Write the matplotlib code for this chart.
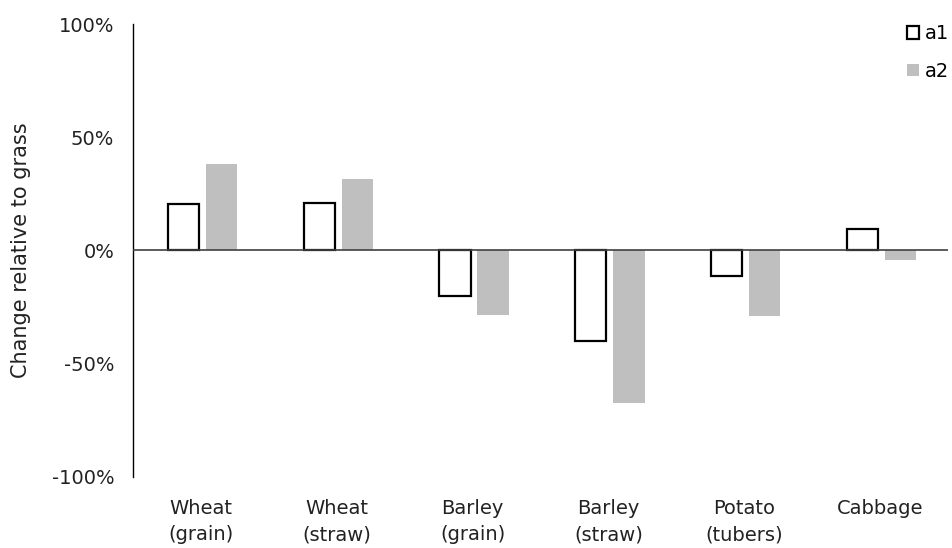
import numpy as np
import matplotlib
matplotlib.use("Agg")
import matplotlib.pyplot as plt

# Values (fraction change relative to grass)
categories = ["Wheat\n(grain)", "Wheat\n(straw)", "Barley\n(grain)",
              "Barley\n(straw)", "Potato\n(tubers)", "Cabbage"]
a1 = [0.204, 0.211, -0.200, -0.400, -0.114, 0.096]
a2 = [0.383, 0.314, -0.285, -0.673, -0.291, -0.042]
yticks = [-1.0, -0.5, 0.0, 0.5, 1.0]
ytick_labels = ["-100%", "-50%", "0%", "50%", "100%"]

plt.rcParams['font.family'] = ['DejaVu Sans']
fs = 14

fig = plt.figure(figsize=(9.52, 5.48), dpi=100)
ax = fig.add_axes([0.1397, 0.1296, 0.8563, 0.8266])

x = np.arange(len(categories))
w = 0.23
ax.bar(x - 0.13, a1, width=w, facecolor='white', edgecolor='black',
       linewidth=1.6, label='a1', zorder=3)
ax.bar(x + 0.15, a2, width=w, facecolor='#bfbfbf', edgecolor='none',
       label='a2', zorder=3)

ax.axhline(0, color='#404040', linewidth=1.2, zorder=4)

ax.set_xlim(-0.5, len(categories) - 0.5)
ax.set_ylim(-1.0, 1.0)
ax.set_yticks(yticks)
ax.set_yticklabels(ytick_labels, fontsize=fs, color='#222222')
ax.set_xticks(x)
ax.set_xticklabels(categories, fontsize=fs, color='#222222', linespacing=1.5)
ax.tick_params(axis='both', length=0)
ax.tick_params(axis='y', pad=13.5)
ax.tick_params(axis='x', pad=15.5)

for s in ['top', 'right', 'bottom']:
    ax.spines[s].set_visible(False)
ax.spines['left'].set_linewidth(1.0)
ax.spines['left'].set_color('black')

ax.set_ylabel("Change relative to grass", fontsize=15, labelpad=15,
              color='#222222')

leg = ax.legend(loc='upper right', bbox_to_anchor=(1.022, 1.038), frameon=False,
                fontsize=fs, handlelength=0.6, handleheight=0.6,
                handletextpad=0.3, labelspacing=0.95)

fig.savefig("out.png", dpi=100)
